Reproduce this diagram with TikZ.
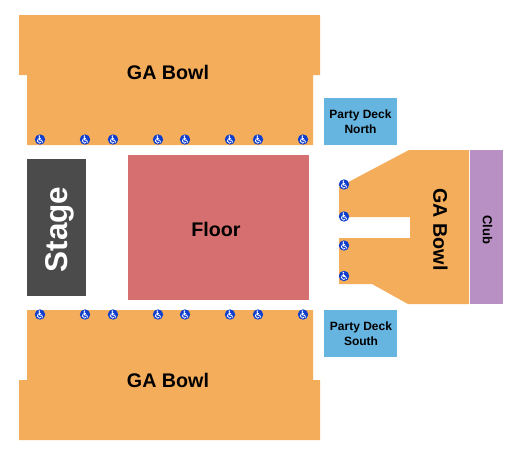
\documentclass[tikz,border=0pt]{standalone}
\usepackage{fontspec}
\setmainfont{Liberation Sans}
\definecolor{bowl}{HTML}{F4AD5B}
\definecolor{floorc}{HTML}{D66F6F}
\definecolor{stagec}{HTML}{4B4B4B}
\definecolor{deck}{HTML}{66B5E0}
\definecolor{clubc}{HTML}{B990C4}
\definecolor{ada}{HTML}{0F3FCC}
\tikzset{
  lab/.style={font=\bfseries\fontsize{#1}{#1}\selectfont,text=black,align=center,inner sep=0pt},
  wheel/.pic={
    \fill[ada] (0,0) circle (5.2);
    \fill[white] (-0.7,-3.4) circle (0.85);
    \draw[white,line width=0.8,line join=round] (-0.7,-2.3) -- (-0.4,0.6) -- (1.6,0.6) -- (2.7,3);
    \draw[white,line width=0.7] (-0.6,-0.9) -- (1.2,-0.9);
    \draw[white,line width=0.8] (-1.5,-0.9) .. controls (-3.3,-0.2) and (-3.2,3.5) .. (-0.5,3.6) .. controls (0.3,3.6) and (1,3.2) .. (1.3,2.6);
  }
}
\begin{document}
\begin{tikzpicture}[x=1pt,y=-1pt]
\useasboundingbox (0,0) rectangle (525,455);
\fill[white] (0,0) rectangle (525,455);
\fill[bowl] (19,15) -- (320,15) -- (320,75) -- (313,75) -- (313,145) -- (27,145) -- (27,75) -- (19,75) -- cycle;
\fill[bowl] (27,310) -- (313,310) -- (313,380) -- (320,380) -- (320,440) -- (19,440) -- (19,380) -- (27,380) -- cycle;
\fill[bowl] (409,150) -- (469,150) -- (469,304) -- (408,304) -- (372,284) -- (339,284) -- (339,238) -- (410,238) -- (410,217) -- (339,217) -- (339,187) -- cycle;
\fill[stagec] (27,159) rectangle (86,296);
\fill[floorc] (128,155) rectangle (309,300);
\fill[deck] (324,98) rectangle (397,145);
\fill[deck] (324,310) rectangle (397,357);
\fill[clubc] (470,150) rectangle (503,304);
\node[lab=19.7] (gatop) at (168,72.3) {GA Bowl};
\node[lab=19.7] (gabot) at (168,380.3) {GA Bowl};
\node[lab=19.7,rotate=-90] (garight) at (440.5,229.5) {GA Bowl};
\node[lab=19.7] (floorl) at (216,229.3) {Floor};
\node[lab=31.5,text=white,rotate=90] (stagel) at (59.5,229.5) {Stage};
\node[lab=13,rotate=-90] (clubl) at (487.5,229.5) {Club};
\node[lab=12] (north) at (360.5,121.5) {Party Deck\\[3pt]North};
\node[lab=12] (south) at (361,334) {Party Deck\\[3pt]South};
\foreach \x in {40,85,113,158,185,230,258,303}{
  \pic at (\x,139.5) {wheel};
  \pic at (\x,314.5) {wheel};
}
\foreach \y in {184.5,216.5,245.5,276}{
  \pic at (344,\y) {wheel};
}
\end{tikzpicture}
\end{document}
